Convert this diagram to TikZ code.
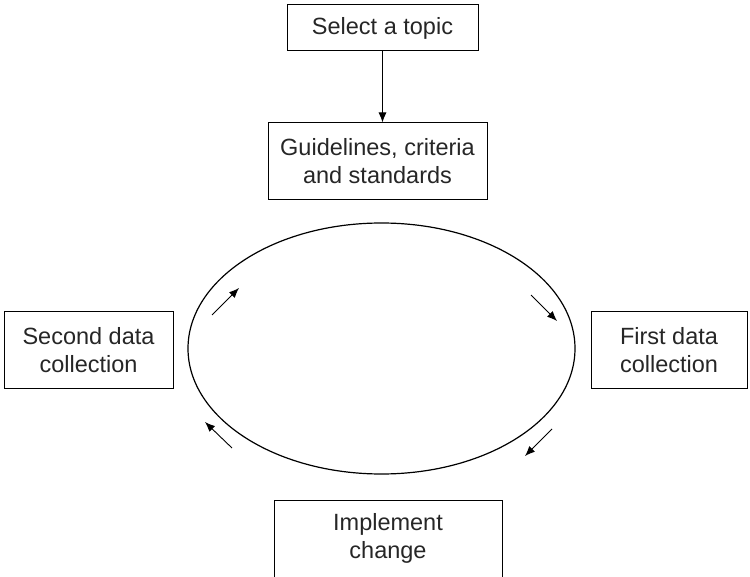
\documentclass[tikz,border=0pt]{standalone}
\usepackage{fontspec}
\setmainfont{Liberation Sans}
\usetikzlibrary{arrows.meta,shapes.geometric}
\tikzset{
  box/.style={draw,line width=1pt,align=center,inner sep=0pt,
    minimum height=77pt,text=black!85,font=\fontsize{23.5}{28}\selectfont},
  flow/.style={-{Latex[length=10pt,width=8pt]},line width=0.9pt}
}
\begin{document}
\begin{tikzpicture}[x=1pt,y=-1pt]
    \useasboundingbox (0,0) rectangle (750,577);

    \node[box,minimum width=191pt,minimum height=46pt] (topic) at (382.5,28) {Select a topic};
    \node[box,minimum width=219pt] (guide) at (377.5,161.5) {Guidelines, criteria\\and standards};
    \draw[flow] (topic.south) -- (topic.south |- guide.north);

    % the audit cycle
    \node[draw,ellipse,line width=1.2pt,inner sep=0pt,
      minimum width=387pt,minimum height=251pt] (cycle) at (381.5,348.5) {};

    \node[box,minimum width=169pt] (second) at (88.5,350.5) {Second data\\collection};
    \node[box,minimum width=156pt] (first) at (669,350.5) {First data\\collection};
    \node[box,minimum width=228pt] (change) at (388,538.5) {Implement\\change};

    \coordinate (a1) at (212,315); \coordinate (b1) at (239,288);
    \coordinate (a2) at (531,295); \coordinate (b2) at (557,321);
    \coordinate (a3) at (552,429); \coordinate (b3) at (525,456);
    \coordinate (a4) at (232,448); \coordinate (b4) at (205,422);
    \foreach \i in {1,...,4}
        \draw[flow] (a\i) -- (b\i);
\end{tikzpicture}
\end{document}
